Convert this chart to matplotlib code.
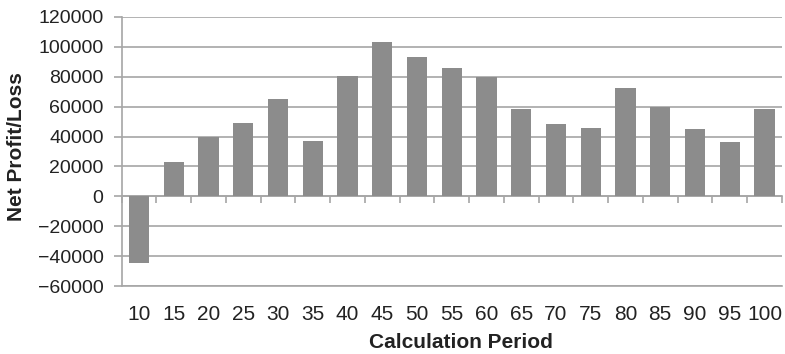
import matplotlib.pyplot as plt
import numpy as np

plt.rcParams['font.family'] = ['Liberation Sans', 'DejaVu Sans']

periods = ['10', '15', '20', '25', '30', '35', '40', '45', '50', '55',
           '60', '65', '70', '75', '80', '85', '90', '95', '100']
net_profit = [-44500, 23000, 40000, 49000, 65300, 36900, 80500, 103100, 93500, 85700,
              79600, 58400, 48300, 45600, 72700, 59900, 45000, 36200, 58400]
y_ticks = list(range(-60000, 120001, 20000))

grid_col = '#a6a6a6'
bar_col = '#8c8c8c'
text_col = '#222222'

fig = plt.figure(figsize=(7.85, 3.54), dpi=100)
ax = fig.add_axes([0.155, 0.192, 0.841, 0.760])

x = np.arange(len(periods))
ax.bar(x, net_profit, width=0.58, color=bar_col, zorder=3)

ax.set_xlim(-0.5, len(periods) - 0.5)
ax.set_ylim(-60000, 120000)
ax.set_yticks(y_ticks)
ax.set_yticklabels([str(v).replace('-', '\u2212') for v in y_ticks])
ax.yaxis.grid(True, color=grid_col, linewidth=1.2, zorder=0)

ax.set_xticks(x)
ax.set_xticklabels(periods)
ax.tick_params(axis='x', length=0, pad=14, labelsize=15, colors=text_col)
ax.tick_params(axis='y', length=6, width=1.2, color=grid_col, labelsize=14,
               labelcolor=text_col, pad=7)

for side in ['top', 'right']:
    ax.spines[side].set_visible(False)
for side in ['left', 'bottom']:
    ax.spines[side].set_color(grid_col)
    ax.spines[side].set_linewidth(1.2)

# zero line with ticks between the categories
zero_ax = ax.secondary_xaxis(60000 / 180000)
zero_ax.set_xticks(np.arange(-0.5, len(periods), 1.0))
zero_ax.set_xticklabels([])
zero_ax.tick_params(length=5, width=1.2, color=grid_col, direction='out')
zero_ax.spines['bottom'].set_color(grid_col)
zero_ax.spines['bottom'].set_linewidth(1.2)

ax.set_xlabel('Calculation Period', fontsize=15, fontweight='bold', color=text_col, va='center')
ax.set_ylabel('Net Profit/Loss', fontsize=15, fontweight='bold', color=text_col, va='center')
ax.xaxis.set_label_coords(0.514, (286 - 342) / 269.0)
ax.yaxis.set_label_coords((17 - 122) / 660.0, 0.52)

fig.savefig('out.png', dpi=100)
